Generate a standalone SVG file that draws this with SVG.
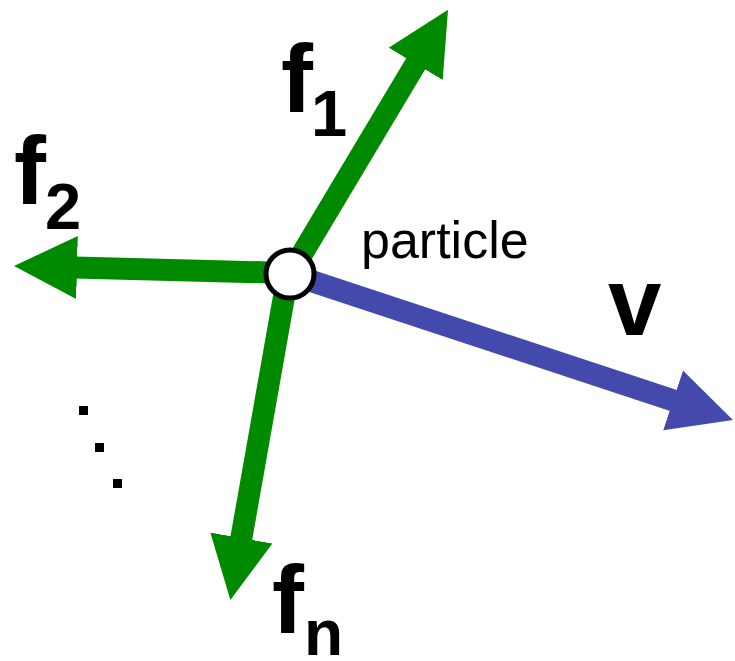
<svg xmlns="http://www.w3.org/2000/svg" width="735" height="661" viewBox="0 0 735 661">
<style>
.g{stroke:#008a00;stroke-width:22;fill:none}
.b{stroke:#434aab;stroke-width:22;fill:none}
.lbl{font-family:"Liberation Sans",Arial,sans-serif;font-weight:bold;fill:#000}
.txt{font-family:"Liberation Sans",Arial,sans-serif;fill:#000}
</style>
<defs>
<marker id="hg" markerUnits="userSpaceOnUse" markerWidth="63" markerHeight="64" viewBox="0 0 63 64" refX="2" refY="32" orient="auto">
<path d="M0,0.5 L63,32 L0,63.5 z" fill="#008a00"/>
</marker>
<marker id="hb" markerUnits="userSpaceOnUse" markerWidth="63" markerHeight="64" viewBox="0 0 63 64" refX="2" refY="32" orient="auto">
<path d="M0,0.5 L63,32 L0,63.5 z" fill="#434aab"/>
</marker>
</defs>
<g id="connectors">
<line class="g" x1="290" y1="274" x2="416.7" y2="62.1" marker-end="url(#hg)"/>
<line class="g" x1="290" y1="273" x2="75" y2="267.5" marker-end="url(#hg)"/>
<line class="g" x1="288" y1="274" x2="241" y2="540" marker-end="url(#hg)"/>
<line class="b" x1="290" y1="274" x2="675" y2="401" marker-end="url(#hb)"/>
</g>
<g id="particle">
<circle cx="290" cy="274" r="24" fill="#fff" stroke="#000" stroke-width="5"/>
<text class="txt" x="361" y="258" font-size="52">particle</text>
</g>
<g id="f1">
<text class="lbl" x="281" y="112" font-size="96">f</text>
<text class="lbl" x="311" y="136" font-size="65">1</text>
</g>
<g id="f2">
<text class="lbl" x="14" y="204" font-size="96">f</text>
<text class="lbl" x="45" y="229" font-size="65">2</text>
</g>
<g id="fn">
<text class="lbl" x="272" y="633" font-size="96">f</text>
<text class="lbl" x="304" y="655" font-size="64">n</text>
</g>
<g id="v">
<text class="lbl" x="608" y="335" font-size="96">v</text>
</g>
<g id="dots" fill="#000">
<rect x="79" y="406" width="9" height="9"/>
<rect x="95" y="443" width="9" height="9"/>
<rect x="113" y="479" width="9" height="9"/>
</g>
</svg>
